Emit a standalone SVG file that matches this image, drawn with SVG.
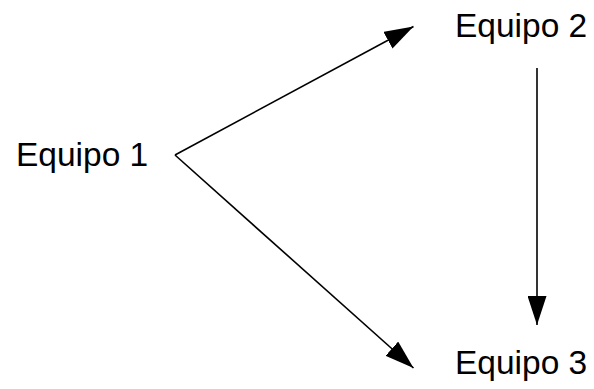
<svg xmlns="http://www.w3.org/2000/svg" width="594" height="389" viewBox="0 0 594 389">
<defs>
<style>
.lbl{font-family:"Liberation Sans",Arial,sans-serif;font-size:33.5px;fill:#000}
.edge{stroke:#000;stroke-width:1.6;fill:none;marker-end:url(#ah)}
</style>
<marker id="ah" markerUnits="userSpaceOnUse" markerWidth="29" markerHeight="19" viewBox="0 0 29 19" refX="29" refY="9.5" orient="auto">
<path d="M0,0 L29,9.5 L0,19 z" fill="#000"/>
</marker>
</defs>
<rect width="594" height="389" fill="#fff"/>
<g id="connectors">
<path class="edge" d="M175,155 L413.5,26.5"/>
<path class="edge" d="M175,155 L413.5,368"/>
<path class="edge" d="M537,68 L537,325"/>
</g>
<g id="equipo1"><text class="lbl" x="16" y="166">Equipo 1</text></g>
<g id="equipo2"><text class="lbl" x="455" y="37">Equipo 2</text></g>
<g id="equipo3"><text class="lbl" x="455" y="374">Equipo 3</text></g>
</svg>
